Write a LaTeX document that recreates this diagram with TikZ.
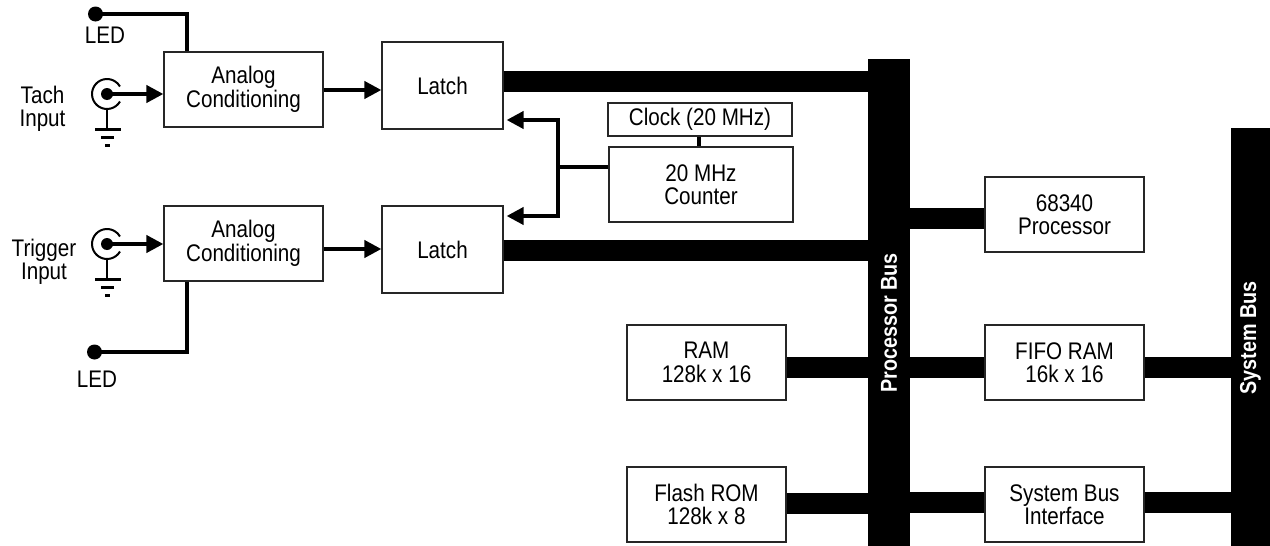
\documentclass[tikz,border=0pt]{standalone}
\usepackage{fontspec}
\setmainfont{Liberation Sans}[FakeStretch=0.86]
\usetikzlibrary{arrows.meta}
\begin{document}
\begin{tikzpicture}[x=1pt,y=-1pt,
  txt/.style={font=\fontsize{24}{23.5}\selectfont},
  blk/.style={txt, draw=black!85, line width=1.2pt, fill=white, minimum width=159pt, minimum height=75pt, align=center, inner sep=0pt},
  lbl/.style={txt, align=center, inner sep=0pt},
  buslink/.style={line width=21pt},
  wire/.style={line width=4pt, line join=miter},
  arr/.style={line width=4pt, line join=miter, -{Triangle[length=17pt,width=17pt]}},
  busbar/.style={fill=black, draw=none, inner sep=0pt},
  buslabel/.style={rotate=90, text=white, font=\bfseries\fontsize{23}{24}\selectfont, inner sep=0pt},
  dot/.style={circle, fill=black, inner sep=0pt}
]
\useasboundingbox (0,0) rectangle (1270,546);

% blocks
\node[blk] (a1) at (243.5,89.5) {Analog\\Conditioning};
\node[blk] (a2) at (243.5,243.5) {Analog\\Conditioning};
\node[blk, minimum width=121pt, minimum height=87pt] (l1) at (442.5,85.5) {Latch};
\node[blk, minimum width=121pt, minimum height=87pt] (l2) at (442.5,249.5) {Latch};
\node[blk, minimum width=184pt, minimum height=33pt] (clock) at (700,119.5) {Clock (20 MHz)};
\node[blk, minimum width=184pt] (counter) at (701,184.5) {20 MHz\\Counter};
\node[blk] (p68) at (1064.5,214.5) {68340\\Processor};
\node[blk] (fifo) at (1064.5,362.5) {FIFO RAM\\16k x 16};
\node[blk] (sbi) at (1064.5,504.5) {System Bus\\Interface};
\node[blk] (ram) at (706.5,362.5) {RAM\\128k x 16};
\node[blk] (flash) at (706.5,504.5) {Flash ROM\\128k x 8};

% buses
\node[busbar, minimum width=42pt, minimum height=487pt] (pbus) at (889,302.5) {};
\node[buslabel] (pbl) at (889,323) {Processor Bus};
\node[busbar, minimum width=39pt, minimum height=418pt] (sbus) at (1250.5,337) {};
\node[buslabel] (sbl) at (1250.5,338) {System Bus};

% thick bus links
\draw[buslink] (l1.east |- 0,81) -- (pbus.west |- 0,81);
\draw[buslink] (l2.east |- 0,250) -- (pbus.west |- 0,250);
\draw[buslink] (pbus.east |- 0,218.5) -- (p68.west |- 0,218.5);
\draw[buslink] (ram.east |- 0,367.5) -- (pbus.west |- 0,367.5);
\draw[buslink] (pbus.east |- 0,367) -- (fifo.west |- 0,367);
\draw[buslink] (fifo.east |- 0,367) -- (sbus.west |- 0,367);
\draw[buslink] (flash.east |- 0,503) -- (pbus.west |- 0,503);
\draw[buslink] (pbus.east |- 0,502.5) -- (sbi.west |- 0,502.5);
\draw[buslink] (sbi.east |- 0,502.5) -- (sbus.west |- 0,502.5);

% analog -> latch
\draw[arr] (a1.east |- 0,90) -- (l1.west |- 0,90);
\draw[arr] (a2.east |- 0,249) -- (l2.west |- 0,249);

% clock / counter
\draw[line width=4pt] (clock.south -| 699,0) -- (counter.north -| 699,0);
\coordinate (jn) at (558,167);
\draw[line width=3.5pt] (counter.west |- jn) -- (jn);
\draw[arr, shorten >=3pt] (jn) |- (l1.east |- 0,120);
\draw[arr, shorten >=3pt] (jn) |- (l2.east |- 0,216);

% input connectors
\node[dot, minimum size=12pt] (jd1) at (107,94) {};
\node[dot, minimum size=12pt] (jd2) at (107,244) {};
\draw[line width=2pt] (jd1.center) ++(30:15) arc[start angle=30, end angle=330, radius=15];
\draw[line width=2pt] (jd2.center) ++(30:15) arc[start angle=30, end angle=330, radius=15];
\draw[arr] (jd1.center) -- (a1.west |- jd1);
\draw[arr] (jd2.center) -- (a2.west |- jd2);

% grounds
\draw[line width=2.5pt] (107,109) -- (107,129);
\draw[line width=3pt] (95,129) -- (121,129) (101,137) -- (114,137) (105,145) -- (110,145);
\draw[line width=2.5pt] (107,259) -- (107,279);
\draw[line width=3pt] (95,279) -- (121,279) (101,287) -- (114,287) (105,295) -- (110,295);

% LEDs
\node[dot, minimum size=15pt] (led1) at (95.5,14) {};
\node[dot, minimum size=15pt] (led2) at (94.5,352) {};
\draw[wire] (led1.center) -| ([xshift=24pt]a1.north west);
\draw[wire] ([xshift=24pt]a2.south west) |- (led2.center);

% labels
\node[lbl] (ledt1) at (105,35.5) {LED};
\node[lbl] (ledt2) at (97,379.5) {LED};
\node[lbl] (tach) at (42.5,109) {Tach\\Input};
\node[lbl] (trig) at (44,262) {Trigger\\Input};
\end{tikzpicture}
\end{document}
